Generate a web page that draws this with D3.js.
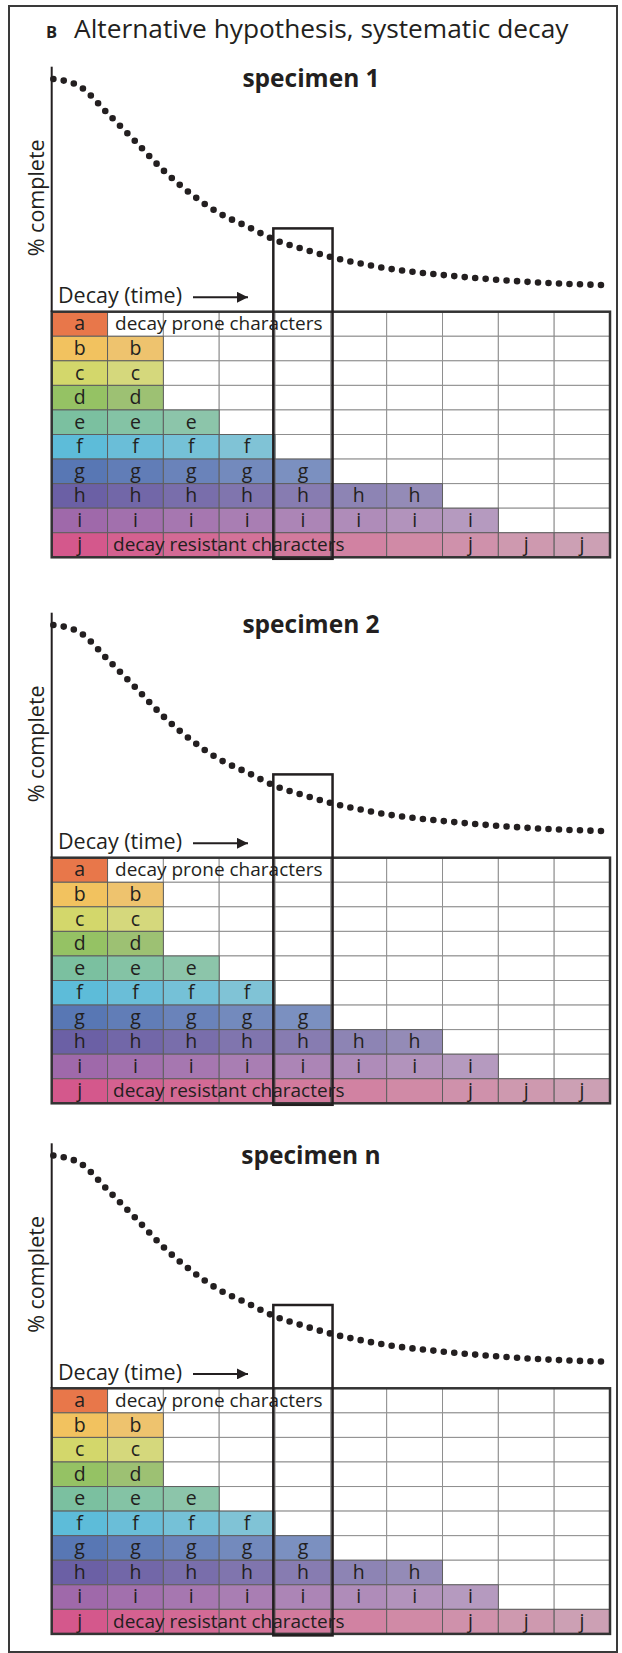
<!DOCTYPE html>
<html>
<head>
<meta charset="utf-8">
<script src="https://d3js.org/d3.v7.min.js"></script>
<style>
  body { margin: 0; background: #fff; }
  text { font-family: "Open Sans", sans-serif; fill: #231f20; }
</style>
</head>
<body>
<svg id="vis"></svg>
<script>
  // Data
  var specimens = ['specimen 1', 'specimen 2', 'specimen n']
  var characters = ['a', 'b', 'c', 'd', 'e', 'f', 'g', 'h', 'i', 'j']
  // number of time steps each character is still present
  var persistence = [1, 2, 2, 2, 3, 4, 5, 7, 8, 10]
  // columns where the letter is written in the cell
  var cellLabels = [
    [0], [0, 1], [0, 1], [0, 1], [0, 1, 2], [0, 1, 2, 3], [0, 1, 2, 3, 4],
    [0, 1, 2, 3, 4, 5, 6], [0, 1, 2, 3, 4, 5, 6, 7], [0, 7, 8, 9]
  ]
  var rowColorStart = ['#e8774a', '#f2c25f', '#d3d76b', '#95c264', '#7bc0a0', '#5dbcd9', '#5877b4', '#6b60a5', '#9f69aa', '#d4588c']
  var rowColorEnd = ['#e8774a', '#eec36e', '#d5d87c', '#9dc173', '#8cc5aa', '#80c3d6', '#7b90c0', '#948bb7', '#b59abf', '#cca0b4']
  // decay curve, % complete over time
  var curveTime = [0.03, 0.5, 1, 1.5, 2, 2.5, 3, 3.5, 4, 4.5, 5, 5.5, 6, 7, 8, 9, 9.85]
  var curveValue = [95, 92, 81, 69.5, 57.7, 48, 40.2, 34.8, 29.3, 25.6, 22.3, 19.8, 17.7, 15, 13, 11.6, 10.9]
  var windowStart = 4, windowEnd = 5, windowTop = 34
  var proneText = 'decay prone characters'
  var resistantText = 'decay resistant characters'

  // Layout
  var W = 622, H = 1653
  var panelOffset = [0, 546, 1076.6]
  var axisTop = 66.7, gridTop = 311.7, gridBottom = 557.3

  var svg = d3.select('#vis').attr('width', W).attr('height', H)

  svg.append('rect')
    .attr('x', 9).attr('y', 6).attr('width', 608).attr('height', 1646)
    .attr('fill', 'none').attr('stroke', '#3a3a3a').attr('stroke-width', 2)

  var title = svg.append('text').attr('x', 46).attr('y', 38)
  title.append('tspan').attr('font-weight', 'bold').attr('font-size', 16.5).text('B')
  title.append('tspan').attr('x', 74).attr('font-size', 26.3).text('Alternative hypothesis, systematic decay')

  var defs = svg.append('defs')
  defs.append('marker')
    .attr('id', 'arrow').attr('viewBox', '0 0 10 10').attr('refX', 10).attr('refY', 5)
    .attr('markerWidth', 18).attr('markerHeight', 11).attr('markerUnits', 'userSpaceOnUse')
    .attr('orient', 'auto')
    .append('path').attr('d', 'M0,0 L10,5 L0,10 Z').attr('fill', '#231f20')

  var x = d3.scaleLinear().domain([0, 10]).range([51.7, 610])
  var y = d3.scaleLinear().domain([0, 100]).range([gridTop, axisTop])
  var row = d3.scaleBand().domain(characters).range([gridTop, gridBottom])
  var cols = d3.range(10)

  var curveData = curveTime.map(function(t, i) { return {t: t, v: curveValue[i]} })
  var line = d3.line().x(function(d) { return x(d.t) }).y(function(d) { return y(d.v) }).curve(d3.curveMonotoneX)

  specimens.forEach(function(name, p) {
    var g = svg.append('g').attr('transform', 'translate(0,' + panelOffset[p] + ')')

    // cells
    var cells = []
    characters.forEach(function(c, r) {
      var color = d3.scaleLinear().domain([0, Math.max(1, persistence[r] - 1)])
        .range([rowColorStart[r], rowColorEnd[r]]).interpolate(d3.interpolateLab)
      cols.forEach(function(k) {
        cells.push({c: c, r: r, k: k, on: k < persistence[r], fill: k < persistence[r] ? color(k) : '#fff'})
      })
    })
    cells.sort(function(a, b) { return a.on - b.on })

    g.selectAll('rect.cell').data(cells).enter().append('rect')
      .attr('class', 'cell')
      .attr('x', function(d) { return x(d.k) })
      .attr('y', function(d) { return row(d.c) })
      .attr('width', x(1) - x(0))
      .attr('height', row.bandwidth())
      .attr('fill', function(d) { return d.fill })
      .attr('stroke', function(d) { return d.on ? '#5f5f5f' : '#8f8f8f' })
      .attr('stroke-width', 1)

    // letters
    var letters = []
    characters.forEach(function(c, r) {
      cellLabels[r].forEach(function(k) { letters.push({c: c, k: k}) })
    })
    g.selectAll('text.letter').data(letters).enter().append('text')
      .attr('class', 'letter')
      .attr('x', function(d) { return x(d.k + 0.5) })
      .attr('y', function(d) { return row(d.c) + 18.7 })
      .attr('text-anchor', 'middle')
      .attr('font-size', 19.5)
      .text(function(d) { return d.c })

    g.append('text').attr('x', x(1) + 7.5).attr('y', row('a') + 18.7).attr('font-size', 19).text(proneText)
    g.append('text').attr('x', x(1) + 5.5).attr('y', row('j') + 18.7).attr('font-size', 19).text(resistantText)

    // grid border
    g.append('rect')
      .attr('x', x(0)).attr('y', gridTop).attr('width', x(10) - x(0)).attr('height', gridBottom - gridTop)
      .attr('fill', 'none').attr('stroke', '#333').attr('stroke-width', 2.5)

    // y axis
    g.append('line')
      .attr('x1', x(0)).attr('x2', x(0)).attr('y1', y(100)).attr('y2', y(0))
      .attr('stroke', '#231f20').attr('stroke-width', 2)

    g.append('text')
      .attr('transform', 'translate(43.5,' + (y(50) + 8.6) + ') rotate(-90)')
      .attr('text-anchor', 'middle').attr('font-size', 21.5)
      .text('% complete')

    g.append('text').attr('x', 311).attr('y', 87.3)
      .attr('text-anchor', 'middle').attr('font-weight', 'bold').attr('font-size', 24.5)
      .text(name)

    g.append('text').attr('x', 58).attr('y', gridTop - 8.4).attr('font-size', 21.5).text('Decay (time)')
    g.append('line')
      .attr('x1', 193).attr('x2', 248).attr('y1', gridTop - 14.4).attr('y2', gridTop - 14.4)
      .attr('stroke', '#231f20').attr('stroke-width', 2)
      .attr('marker-end', 'url(#arrow)')

    // dotted decay curve
    g.append('path')
      .attr('d', line(curveData))
      .attr('fill', 'none')
      .attr('stroke', '#231f20')
      .attr('stroke-width', 6.6)
      .attr('stroke-linecap', 'round')
      .attr('stroke-dasharray', '0 10.5')

    // time window box
    g.append('rect')
      .attr('x', x(windowStart) - 1.7).attr('y', y(windowTop))
      .attr('width', x(windowEnd) - x(windowStart) + 3.4)
      .attr('height', gridBottom + 1.5 - y(windowTop))
      .attr('fill', 'none').attr('stroke', '#231f20').attr('stroke-width', 2.5)
  })
</script>
</body>
</html>
